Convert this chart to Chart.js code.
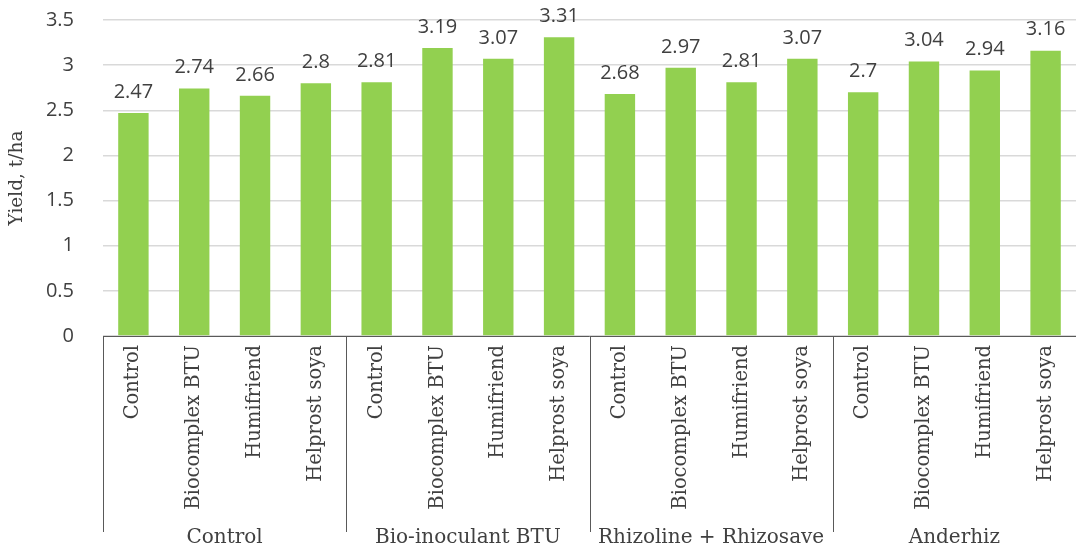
<!DOCTYPE html>
<html>
<head>
<meta charset="utf-8">
<script src="https://cdn.jsdelivr.net/npm/chart.js@4/dist/chart.umd.min.js"></script>
<style>
  html, body { margin: 0; padding: 0; background: #fff; }
  #wrap { width: 1076px; height: 549px; position: relative; }
</style>
</head>
<body>
<div id="wrap"><canvas id="barChart"></canvas></div>
<script>
// data
var groups = ['Control', 'Bio-inoculant BTU', 'Rhizoline + Rhizosave', 'Anderhiz'];
var products = ['Control', 'Biocomplex BTU', 'Humifriend', 'Helprost soya'];
var yieldValues = [2.47, 2.74, 2.66, 2.8, 2.81, 3.19, 3.07, 3.31, 2.68, 2.97, 2.81, 3.07, 2.7, 3.04, 2.94, 3.16];
var yTicks = [0, 0.5, 1, 1.5, 2, 2.5, 3, 3.5];

var labels = [];
for (var g = 0; g < groups.length; g++) {
    for (var p = 0; p < products.length; p++) {
        labels.push(products[p]);
    }
}

var textColor = '#404040';
var serif = '"DejaVu Serif", "Liberation Serif", serif';
var sans = '"Open Sans", "Noto Sans", sans-serif';

// value labels above bars + multi level category axis
var extras = {
    id: 'extras',
    afterDatasetsDraw: function(chart) {
        var ctx = chart.ctx;
        var meta = chart.getDatasetMeta(0);
        ctx.save();
        ctx.fillStyle = textColor;
        ctx.font = '20px ' + sans;
        ctx.textAlign = 'center';
        ctx.textBaseline = 'bottom';
        meta.data.forEach(function(bar, i) {
            ctx.fillText(String(yieldValues[i]), bar.x, bar.y - 11);
        });
        ctx.restore();
    },
    afterDraw: function(chart) {
        var ctx = chart.ctx;
        var area = chart.chartArea;
        var x = chart.scales.x;
        var step = (area.right - area.left) / labels.length;
        ctx.save();
        // axis line
        ctx.strokeStyle = '#595959';
        ctx.lineWidth = 1;
        ctx.beginPath();
        ctx.moveTo(area.left, area.bottom + 0.5);
        ctx.lineTo(area.right, area.bottom + 0.5);
        // group separators
        for (var g = 0; g <= groups.length; g++) {
            var sx = Math.round(area.left + g * products.length * step) + 0.5;
            ctx.moveTo(sx, area.bottom);
            ctx.lineTo(sx, area.bottom + 196);
        }
        ctx.stroke();

        // product labels rotated
        ctx.fillStyle = textColor;
        ctx.font = '19.5px ' + serif;
        ctx.textAlign = 'right';
        ctx.textBaseline = 'middle';
        labels.forEach(function(l, i) {
            var px = x.getPixelForValue(i);
            ctx.save();
            ctx.translate(px, area.bottom + 9);
            ctx.rotate(-Math.PI / 2);
            ctx.fillText(l, 0, 0);
            ctx.restore();
        });

        // group labels
        ctx.font = '20px ' + serif;
        ctx.textAlign = 'center';
        ctx.textBaseline = 'middle';
        groups.forEach(function(gname, g) {
            var cx = area.left + (g + 0.5) * products.length * step;
            ctx.fillText(gname, cx, area.bottom + 202);
        });
        ctx.restore();
    }
};

var barChart = new Chart(document.getElementById('barChart').getContext('2d'), {
    type: 'bar',
    data: {
        labels: labels,
        datasets: [{
            label: 'Yield, t/ha',
            data: yieldValues,
            backgroundColor: '#92D050',
            categoryPercentage: 1,
            barPercentage: 0.5
        }]
    },
    options: {
        responsive: true,
        maintainAspectRatio: false,
        animation: false,
        layout: { padding: { top: 20, right: 0, bottom: 213, left: 0 } },
        plugins: {
            legend: { display: false },
            tooltip: { enabled: false }
        },
        scales: {
            x: {
                display: false
            },
            y: {
                min: 0,
                max: 3.5,
                afterBuildTicks: function(axis) {
                    axis.ticks = yTicks.map(function(v) { return { value: v }; });
                },
                afterFit: function(axis) {
                    axis.width = 103;
                    axis.paddingTop = 0;
                    axis.paddingBottom = 0;
                },
                border: { display: false },
                grid: { color: '#d9d9d9', lineWidth: 1.5, drawTicks: false },
                ticks: {
                    color: textColor,
                    font: { family: sans, size: 20 },
                    padding: 29,
                    callback: function(v) { return String(v); }
                },
                title: {
                    display: true,
                    text: 'Yield, t/ha',
                    color: textColor,
                    font: { family: serif, size: 18.5 },
                    padding: { top: 6, bottom: 2 }
                }
            }
        }
    },
    plugins: [extras]
});
</script>
</body>
</html>
